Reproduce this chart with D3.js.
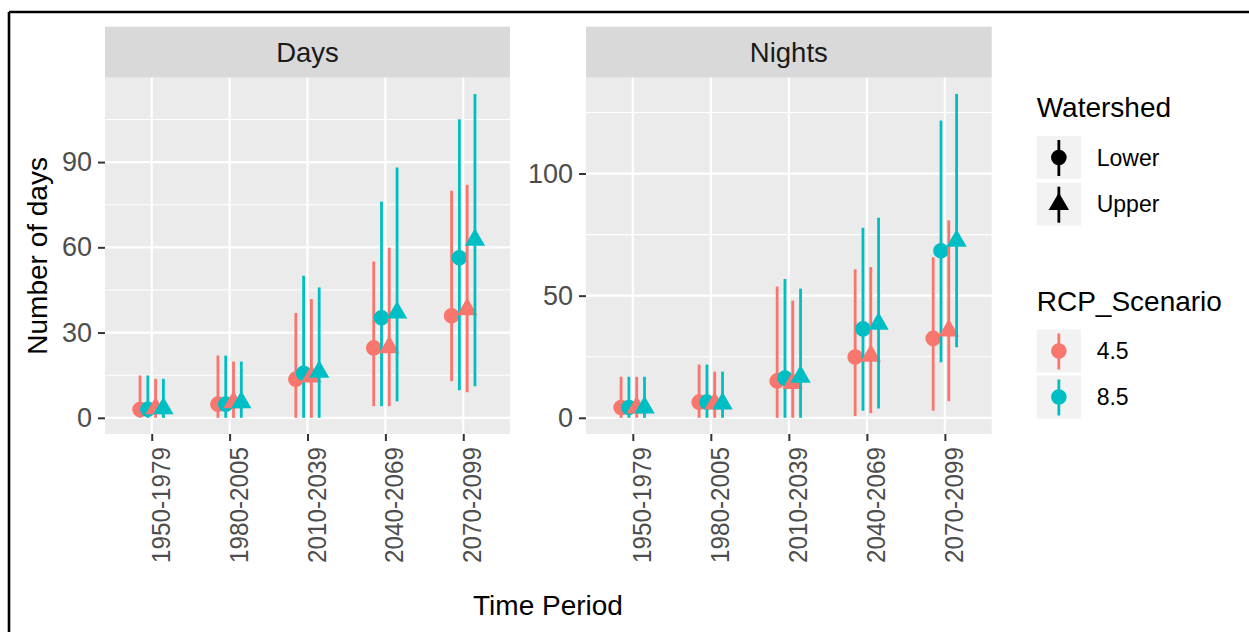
<!DOCTYPE html>
<html>
<head>
<meta charset="utf-8">
<script src="https://cdn.jsdelivr.net/npm/d3@7"></script>
<style>
  html, body { margin: 0; padding: 0; background: #fff; }
  svg { display: block; font-family: "Liberation Sans", Arial, sans-serif; }
</style>
</head>
<body>
<svg id="chart" width="1249" height="632"></svg>
<script>
// Time periods on the x axis
const periods = ["1950-1979", "1980-2005", "2010-2039", "2040-2069", "2070-2099"];
const watersheds = ["Lower", "Upper"];
const scenarios = ["4.5", "8.5"];

// Days: median with lower/upper range, per watershed and scenario
const daysLower45Mid = [2.9, 4.8, 13.6, 24.6, 35.9];
const daysLower45Lo  = [0, 0, 0, 4.1, 12.9];
const daysLower45Hi  = [14.9, 21.9, 36.9, 55.0, 79.9];
const daysLower85Mid = [3.0, 4.8, 15.7, 35.2, 56.3];
const daysLower85Lo  = [0, 0, 0, 4.1, 9.7];
const daysLower85Hi  = [14.9, 21.9, 50.0, 76.1, 105.1];
const daysUpper45Mid = [3.3, 5.4, 14.5, 24.8, 38.2];
const daysUpper45Lo  = [0, 0, 0, 4.1, 9.0];
const daysUpper45Hi  = [13.7, 19.8, 41.8, 59.9, 82.0];
const daysUpper85Mid = [3.3, 5.4, 16.2, 37.0, 62.6];
const daysUpper85Lo  = [0, 0, 0, 5.8, 11.1];
const daysUpper85Hi  = [13.7, 19.8, 45.9, 88.1, 114.0];

// Nights
const nightsLower45Mid = [4.2, 6.4, 15.1, 24.9, 32.5];
const nightsLower45Lo  = [0, 0, 0, 0.7, 2.9];
const nightsLower45Hi  = [16.8, 21.8, 53.7, 60.8, 65.7];
const nightsLower85Mid = [4.2, 6.4, 16.3, 36.4, 68.4];
const nightsLower85Lo  = [0, 0, 0, 2.9, 22.7];
const nightsLower85Hi  = [16.8, 21.8, 56.8, 77.8, 121.7];
const nightsUpper45Mid = [4.2, 5.8, 14.2, 25.4, 35.7];
const nightsUpper45Lo  = [0, 0, 0, 1.9, 6.8];
const nightsUpper45Hi  = [16.8, 18.9, 48.0, 61.7, 80.8];
const nightsUpper85Mid = [4.2, 5.8, 16.8, 38.5, 72.4];
const nightsUpper85Lo  = [0, 0, 0, 3.8, 28.9];
const nightsUpper85Hi  = [16.8, 18.9, 52.9, 81.9, 132.6];

// Axis ticks per panel
const daysTicks = [0, 30, 60, 90];
const daysMinor = [15, 45, 75, 105];
const nightsTicks = [0, 50, 100];
const nightsMinor = [25, 75, 125];

const colors = { "4.5": "#F8766D", "8.5": "#00BFC4" };

function groups(mid45L, lo45L, hi45L, mid85L, lo85L, hi85L, mid45U, lo45U, hi45U, mid85U, lo85U, hi85U) {
  return [
    { ws: "Lower", rcp: "4.5", mid: mid45L, lo: lo45L, hi: hi45L },
    { ws: "Lower", rcp: "8.5", mid: mid85L, lo: lo85L, hi: hi85L },
    { ws: "Upper", rcp: "4.5", mid: mid45U, lo: lo45U, hi: hi45U },
    { ws: "Upper", rcp: "8.5", mid: mid85U, lo: lo85U, hi: hi85U }
  ];
}

const panels = [
  { name: "Days", x0: 105, x1: 510, ticks: daysTicks, minor: daysMinor,
    groups: groups(daysLower45Mid, daysLower45Lo, daysLower45Hi, daysLower85Mid, daysLower85Lo, daysLower85Hi,
                   daysUpper45Mid, daysUpper45Lo, daysUpper45Hi, daysUpper85Mid, daysUpper85Lo, daysUpper85Hi) },
  { name: "Nights", x0: 586, x1: 991.7, ticks: nightsTicks, minor: nightsMinor,
    groups: groups(nightsLower45Mid, nightsLower45Lo, nightsLower45Hi, nightsLower85Mid, nightsLower85Lo, nightsLower85Hi,
                   nightsUpper45Mid, nightsUpper45Lo, nightsUpper45Hi, nightsUpper85Mid, nightsUpper85Lo, nightsUpper85Hi) }
];

const stripTop = 26.7, panelTop = 77.7, panelBottom = 434;
const svg = d3.select("#chart");

// outer frame (top and left edges)
svg.append("line").attr("x1", 9).attr("x2", 1249).attr("y1", 12).attr("y2", 12)
  .attr("stroke", "#000").attr("stroke-width", 2.6);
svg.append("line").attr("x1", 9).attr("x2", 9).attr("y1", 12).attr("y2", 632)
  .attr("stroke", "#000").attr("stroke-width", 2.6);

const circle = d3.symbol().type(d3.symbolCircle).size(Math.PI * 7.8 * 7.8);
const triangle = d3.symbol().type(d3.symbolTriangle).size(180);

panels.forEach(p => {
  const g = svg.append("g");
  const x = d3.scalePoint().domain(periods).range([p.x0, p.x1]).padding(0.6);
  const maxV = d3.max(p.groups, gr => d3.max(gr.hi));
  const minV = d3.min(p.groups, gr => d3.min(gr.lo));
  const pad = (maxV - minV) * 0.05;
  const y = d3.scaleLinear().domain([minV - pad, maxV + pad]).range([panelBottom, panelTop]);

  // strip
  g.append("rect").attr("x", p.x0).attr("y", stripTop).attr("width", p.x1 - p.x0).attr("height", panelTop - stripTop)
    .attr("fill", "#D9D9D9");
  g.append("text").attr("x", (p.x0 + p.x1) / 2).attr("y", (stripTop + panelTop) / 2)
    .attr("text-anchor", "middle").attr("dy", "0.35em").attr("font-size", 27.5).attr("fill", "#1A1A1A")
    .text(p.name);

  // panel background
  g.append("rect").attr("x", p.x0).attr("y", panelTop).attr("width", p.x1 - p.x0).attr("height", panelBottom - panelTop)
    .attr("fill", "#EBEBEB");

  // grid lines
  g.selectAll(".minor").data(p.minor).join("line")
    .attr("x1", p.x0).attr("x2", p.x1).attr("y1", d => y(d)).attr("y2", d => y(d))
    .attr("stroke", "#fff").attr("stroke-width", 1.1);
  g.selectAll(".majorY").data(p.ticks).join("line")
    .attr("x1", p.x0).attr("x2", p.x1).attr("y1", d => y(d)).attr("y2", d => y(d))
    .attr("stroke", "#fff").attr("stroke-width", 2.2);
  g.selectAll(".majorX").data(periods).join("line")
    .attr("x1", d => x(d)).attr("x2", d => x(d)).attr("y1", panelTop).attr("y2", panelBottom)
    .attr("stroke", "#fff").attr("stroke-width", 2.2);

  // y axis
  const yAxis = d3.axisLeft(y).tickValues(p.ticks).tickSize(7).tickPadding(6);
  const ya = g.append("g").attr("transform", `translate(${p.x0},0)`).call(yAxis);
  ya.select(".domain").remove();
  ya.selectAll(".tick line").attr("stroke", "#333").attr("stroke-width", 2);
  ya.selectAll(".tick text").attr("font-size", 27).attr("fill", "#4D4D4D")
    .attr("font-family", "Liberation Sans, Arial, sans-serif");

  // x axis
  const xAxis = d3.axisBottom(x).tickSize(7).tickPadding(0);
  const xa = g.append("g").attr("transform", `translate(0,${panelBottom})`).call(xAxis);
  xa.select(".domain").remove();
  xa.selectAll(".tick line").attr("stroke", "#333").attr("stroke-width", 2);
  xa.selectAll(".tick text")
    .attr("font-size", 26.5).attr("fill", "#4D4D4D")
    .attr("font-family", "Liberation Sans, Arial, sans-serif")
    .attr("text-anchor", "end").attr("dy", null).attr("y", null)
    .attr("textLength", 116).attr("lengthAdjust", "spacingAndGlyphs")
    .attr("transform", "translate(17.5,13) rotate(-90)");

  // dodged point ranges
  const step = x.step();
  p.groups.forEach((gr, i) => {
    const off = (i - 1.5) * 0.1 * step;
    const col = colors[gr.rcp];
    g.selectAll(null).data(periods).join("line")
      .attr("x1", (d) => x(d) + off).attr("x2", (d) => x(d) + off)
      .attr("y1", (d, j) => y(gr.lo[j])).attr("y2", (d, j) => y(gr.hi[j]))
      .attr("stroke", col).attr("stroke-width", 2.8);
    g.selectAll(null).data(periods).join("path")
      .attr("d", gr.ws === "Lower" ? circle : triangle)
      .attr("transform", (d, j) => `translate(${x(d) + off},${y(gr.mid[j])})`)
      .attr("fill", col);
  });
});

// axis titles
svg.append("text").attr("x", 548).attr("y", 615).attr("text-anchor", "middle")
  .attr("font-size", 28).attr("fill", "#000").text("Time Period");
svg.append("text").attr("transform", "translate(47,255.9) rotate(-90)").attr("text-anchor", "middle")
  .attr("font-size", 28).attr("fill", "#000").text("Number of days");

// legends
const keyX = 1036.7, keyW = 44.3, keyH = 43;
const lg = svg.append("g");
lg.append("text").attr("x", keyX).attr("y", 116.5).attr("font-size", 28).attr("fill", "#000").text("Watershed");
watersheds.forEach((w, i) => {
  const ky = 136 + i * 46.7;
  lg.append("rect").attr("x", keyX).attr("y", ky).attr("width", keyW).attr("height", keyH).attr("fill", "#F2F2F2");
  lg.append("line").attr("x1", keyX + keyW / 2).attr("x2", keyX + keyW / 2).attr("y1", ky + 4).attr("y2", ky + keyH - 3)
    .attr("stroke", "#000").attr("stroke-width", 2.8);
  lg.append("path").attr("d", w === "Lower" ? circle : triangle)
    .attr("transform", `translate(${keyX + keyW / 2},${ky + keyH / 2})`).attr("fill", "#000");
  lg.append("text").attr("x", 1096.7).attr("y", ky + keyH / 2).attr("dy", "0.36em")
    .attr("font-size", 23).attr("fill", "#000").text(w);
});
lg.append("text").attr("x", keyX).attr("y", 311).attr("font-size", 28).attr("fill", "#000").text("RCP_Scenario");
scenarios.forEach((s, i) => {
  const ky = 329.5 + i * 46;
  lg.append("rect").attr("x", keyX).attr("y", ky).attr("width", keyW).attr("height", keyH).attr("fill", "#F2F2F2");
  lg.append("line").attr("x1", keyX + keyW / 2).attr("x2", keyX + keyW / 2).attr("y1", ky + 4).attr("y2", ky + keyH - 3)
    .attr("stroke", colors[s]).attr("stroke-width", 2.8);
  lg.append("path").attr("d", circle)
    .attr("transform", `translate(${keyX + keyW / 2},${ky + keyH / 2})`).attr("fill", colors[s]);
  lg.append("text").attr("x", 1096.7).attr("y", ky + keyH / 2).attr("dy", "0.36em")
    .attr("font-size", 23).attr("fill", "#000").text(s);
});
</script>
</body>
</html>
